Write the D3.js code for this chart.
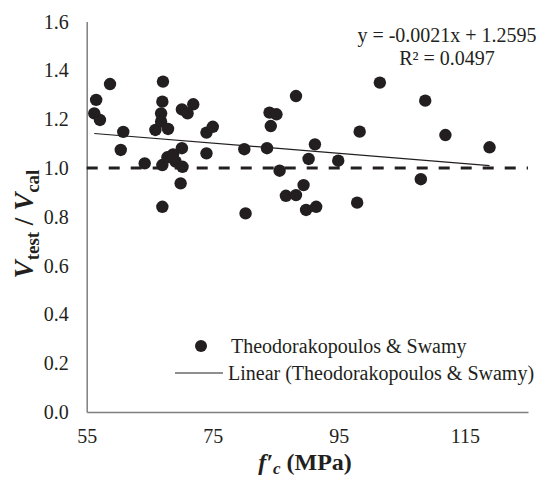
<!DOCTYPE html>
<html><head><meta charset="utf-8">
<script src="https://cdn.jsdelivr.net/npm/d3@7"></script>
<style>
html,body{margin:0;padding:0;background:#fff;}
svg text{font-family:"Liberation Serif","Times New Roman",serif !important;fill:#231f20;}
</style></head>
<body>
<svg id="chart" width="554" height="480"></svg>
<script>
// Data
const fc = [56.5, 58.7, 56.2, 57.1, 60.8, 60.4, 64.2, 67.1, 67.0, 66.8, 66.8, 65.9, 67.9, 70.1, 71.0, 71.9, 74.0, 75.0, 74.0,
            67.0, 67.8, 68.7, 69.1, 70.1, 70.2, 69.9, 67.0,
            88.2, 84.0, 85.1, 84.2, 98.3, 80.0, 83.6, 91.2, 90.2, 94.9, 85.6, 89.4, 86.6, 88.2, 89.8, 91.4, 97.9, 80.2,
            101.5, 108.7, 111.9, 118.9, 108.0];
const ratio = [1.279, 1.344, 1.224, 1.197, 1.148, 1.074, 1.019, 1.354, 1.272, 1.224, 1.190, 1.156, 1.160, 1.240, 1.224, 1.261, 1.145, 1.169, 1.060,
               1.012, 1.044, 1.056, 1.026, 1.081, 1.005, 0.937, 0.841,
               1.295, 1.227, 1.220, 1.172, 1.149, 1.077, 1.081, 1.097, 1.037, 1.030, 0.989, 0.930, 0.886, 0.889, 0.828, 0.841, 0.858, 0.814,
               1.350, 1.276, 1.135, 1.085, 0.954];
const trendCoef = [-0.0021, 1.2595];   // slope, intercept
const xTicks = [55, 75, 95, 115];
const yTicks = [0, 0.2, 0.4, 0.6, 0.8, 1.0, 1.2, 1.4, 1.6];
const refLine = [1.0];
const seriesName = "Theodorakopoulos & Swamy";
const eqLabels = ["y = -0.0021x + 1.2595", "R² = 0.0497"];

const FONT = '"Liberation Serif", "Times New Roman", serif';
const svg = d3.select("#chart");
const x = d3.scaleLinear().domain([55, 125]).range([86.7, 528]);
const y = d3.scaleLinear().domain([0, 1.6]).range([412, 21.6]);
const ink = "#231f20";

// axes
const xAxis = d3.axisBottom(x).tickValues(xTicks).tickSize(0).tickPadding(20);
const gx = svg.append("g").attr("transform", `translate(0,${y(0)})`).call(xAxis)
  .attr("font-family", FONT).attr("font-size", 20);
gx.select(".domain").attr("stroke", "#7f7f7f").attr("stroke-width", 1.5);
gx.selectAll("text").style("font-family", FONT).style("font-size", "20px").attr("fill", ink).attr("dy", "0.55em");

const yAxis = d3.axisLeft(y).tickValues(yTicks).tickFormat(d3.format(".1f")).tickSize(0).tickPadding(18);
const gy = svg.append("g").attr("transform", `translate(${x(55)},0)`).call(yAxis)
  .attr("font-family", FONT).attr("font-size", 20);
gy.select(".domain").attr("stroke", "#7f7f7f").attr("stroke-width", 1.5);
gy.selectAll("text").style("font-family", FONT).style("font-size", "20px").attr("fill", ink);

// reference dashed line at 1.0
svg.selectAll("line.ref").data(refLine).enter().append("line")
  .attr("x1", x(55)).attr("x2", x(125))
  .attr("y1", d => y(d)).attr("y2", d => y(d))
  .attr("stroke", ink).attr("stroke-width", 3).attr("stroke-dasharray", "11,11");

// trendline
const xmin = d3.min(fc), xmax = d3.max(fc);
svg.append("line")
  .attr("x1", x(xmin)).attr("y1", y(trendCoef[0]*xmin + trendCoef[1]))
  .attr("x2", x(xmax)).attr("y2", y(trendCoef[0]*xmax + trendCoef[1]))
  .attr("stroke", ink).attr("stroke-width", 1.2);

// points
svg.append("g").selectAll("circle").data(fc.map((d,i)=>[d, ratio[i]])).enter().append("circle")
  .attr("cx", d => x(d[0])).attr("cy", d => y(d[1])).attr("r", 6.2).attr("fill", ink);

function txt(xp, yp, size) {
  return svg.append("text").attr("x", xp).attr("y", yp)
    .style("font-family", FONT).style("font-size", size + "px").attr("fill", ink);
}

// equation
txt(447, 42, 20).attr("text-anchor", "middle").text(eqLabels[0]);
txt(447, 65, 20).attr("text-anchor", "middle").text(eqLabels[1]);

// legend
svg.append("circle").attr("cx", 201).attr("cy", 346).attr("r", 6).attr("fill", ink);
txt(231, 353, 20).text(seriesName);
svg.append("line").attr("x1", 175).attr("x2", 223).attr("y1", 373).attr("y2", 373).attr("stroke", ink).attr("stroke-width", 1.2);
txt(228, 380, 20).text("Linear (" + seriesName + ")");

// x title
const xt = txt(305, 470, 24).attr("text-anchor", "middle").style("font-weight", "bold");
xt.append("tspan").style("font-style", "italic").text("f′");
xt.append("tspan").style("font-style", "italic").style("font-size", "17px").attr("dy", 4).text("c");
xt.append("tspan").attr("dy", -4).text(" (MPa)");

// y title
const yt = svg.append("text").attr("transform", "translate(33,224) rotate(-90)").attr("text-anchor", "middle")
  .style("font-family", FONT).style("font-size", "27px").style("font-weight", "bold").attr("fill", ink);
yt.append("tspan").style("font-style", "italic").text("V");
yt.append("tspan").style("font-size", "19px").attr("dy", 6).text("test");
yt.append("tspan").attr("dy", -6).text(" / ");
yt.append("tspan").style("font-style", "italic").text("V");
yt.append("tspan").style("font-size", "19px").attr("dy", 6).text("cal");
</script>
</body></html>
